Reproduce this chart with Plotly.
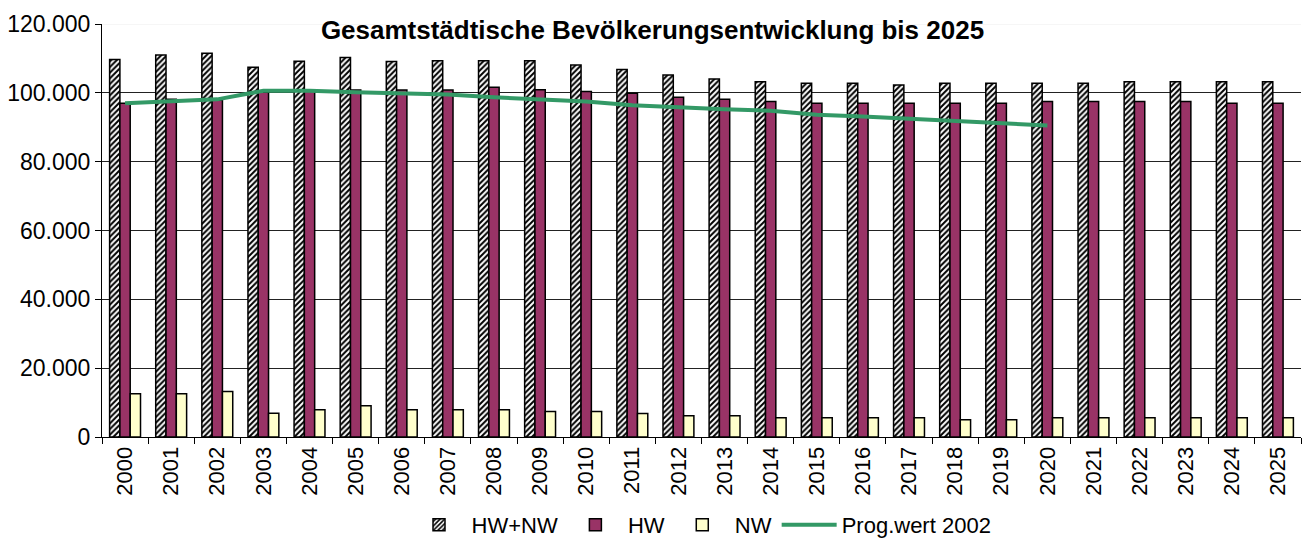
import plotly.graph_objects as go

years = [str(y) for y in range(2000, 2026)]
hw_nw = [109700, 111000, 111500, 107400, 109200, 110300, 109100, 109300, 109300, 109300,
         108100, 106800, 105200, 104000, 103200, 102800, 102800, 102300, 102800, 102800,
         102800, 102800, 103200, 103200, 103200, 103200]
hw = [97000, 98100, 97900, 100200, 100800, 100800, 100800, 100800, 101600, 100900,
      100400, 99900, 98700, 98100, 97500, 97000, 97000, 97000, 97000, 97000,
      97500, 97500, 97500, 97500, 97000, 97000]
nw = [12600, 12600, 13200, 6900, 7900, 9100, 7900, 7900, 7900, 7400,
      7400, 6800, 6200, 6200, 5600, 5600, 5600, 5600, 5000, 5000,
      5600, 5600, 5600, 5600, 5600, 5600]
prog = [97000, 97600, 98100, 100600, 100600, 100200, 99900, 99500, 98700, 98100,
        97500, 96400, 95700, 95200, 94800, 93600, 93100, 92400, 91800, 91200,
        90500, None, None, None, None, None]
yticks = [0, 20000, 40000, 60000, 80000, 100000, 120000]

FONT = "Liberation Sans, Arial, sans-serif"

fig = go.Figure()
fig.add_trace(go.Bar(
    x=years, y=hw_nw, name="HW+NW",
    marker=dict(color="white", line=dict(color="black", width=1.5),
                pattern=dict(shape="/", fgcolor="black", bgcolor="white", size=4, solidity=0.5)),
))
fig.add_trace(go.Bar(
    x=years, y=hw, name="HW",
    marker=dict(color="#993366", line=dict(color="black", width=1.5)),
))
fig.add_trace(go.Bar(
    x=years, y=nw, name="NW",
    marker=dict(color="#FFFFCC", line=dict(color="black", width=1.5)),
))
fig.add_trace(go.Scatter(
    x=years, y=prog, name="Prog.wert 2002", mode="lines",
    line=dict(color="#339966", width=4), connectgaps=False,
))

fig.add_shape(type="line", xref="paper", x0=0, x1=1, yref="y", y0=yticks[-1], y1=yticks[-1],
              line=dict(color="#eeeeee", width=1), layer="above")

fig.update_layout(
    template="none",
    width=1305, height=540,
    margin=dict(l=102, r=4, t=24, b=103, autoexpand=False),
    paper_bgcolor="white", plot_bgcolor="white",
    separators=",.",
    font=dict(family=FONT, size=20, color="black"),
    title=dict(text="<b>Gesamtstädtische Bevölkerungsentwicklung bis 2025</b>",
               x=0.5, xanchor="center", xref="container", y=0.945, yanchor="middle",
               font=dict(family=FONT, size=26, color="black")),
    barmode="group", bargap=0.33, bargroupgap=0,
    showlegend=True,
    legend=dict(orientation="h", x=0.5, xanchor="center", y=-0.213, yanchor="middle",
                font=dict(family=FONT, size=22, color="black"),
                itemwidth=55, tracegroupgap=0, bgcolor="rgba(0,0,0,0)"),
    xaxis=dict(type="category", tickangle=-90, showline=True, linecolor="black", linewidth=1,
               ticks="outside", tickson="boundaries", ticklen=6, tickcolor="black",
               showgrid=False, automargin=False, zeroline=False,
               tickfont=dict(family=FONT, size=22, color="black")),
    yaxis=dict(range=[0, 120000], tickvals=yticks, tickformat=",d",
               showline=True, linecolor="black", linewidth=1,
               ticks="outside", ticklen=6, tickcolor="black", automargin=False,
               showgrid=True, gridcolor="#222222", gridwidth=1, zeroline=False,
               tickfont=dict(family=FONT, size=23, color="black")),
)

fig.write_html("out.html", config={"displayModeBar": False},
               post_script="document.body.style.margin='0';document.body.style.overflow='hidden';")
